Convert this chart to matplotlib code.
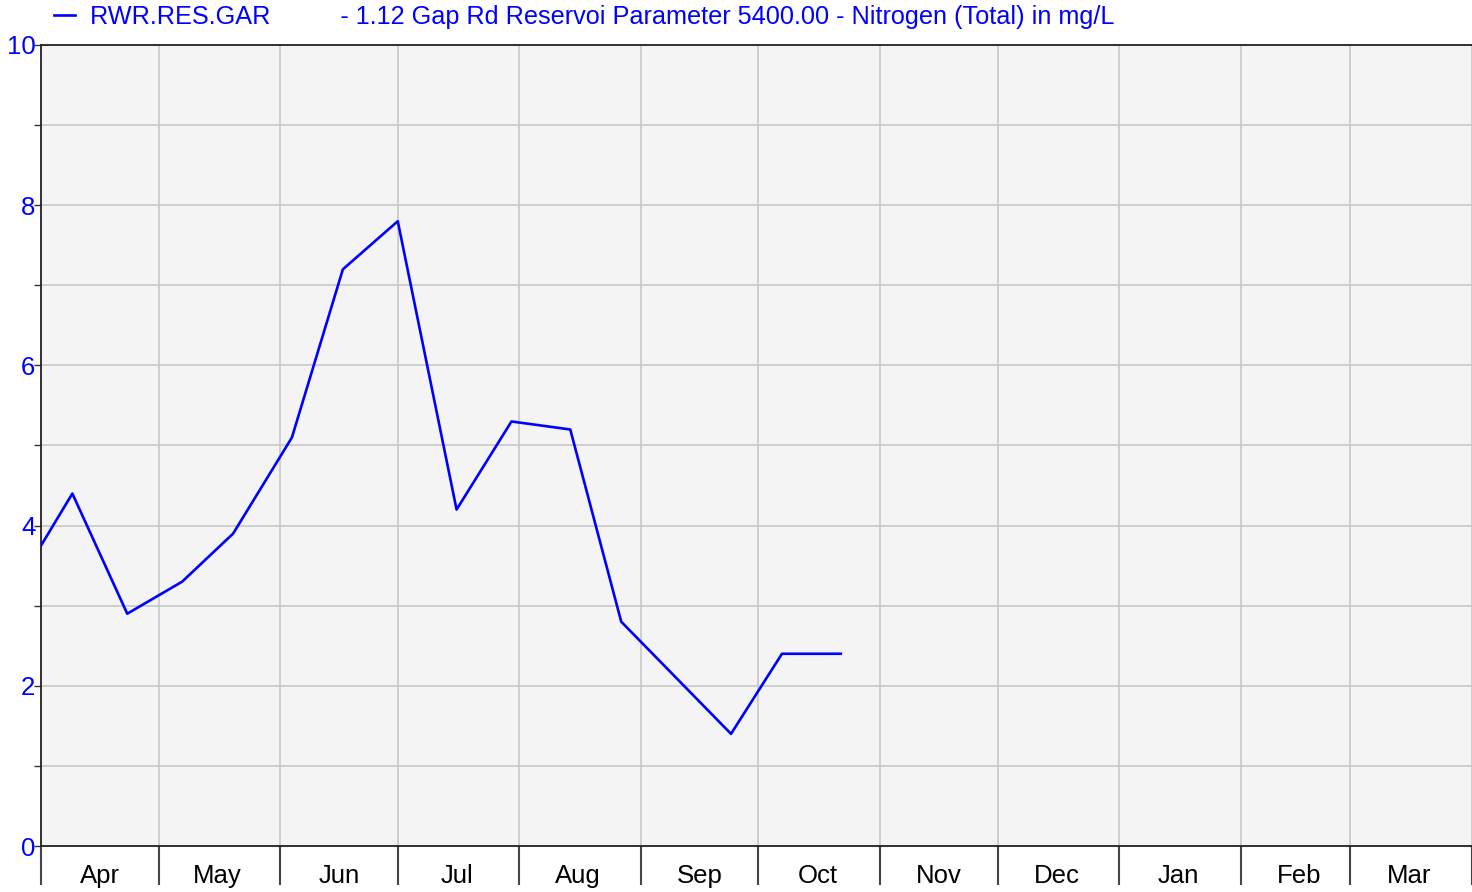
import matplotlib.pyplot as plt
import matplotlib.dates as mdates
import numpy as np
import pandas as pd

# ============================
# Data
# ============================
dates = pd.to_datetime([
    "2018-04-01", "2018-04-09", "2018-04-23", "2018-05-07", "2018-05-20",
    "2018-06-04", "2018-06-17", "2018-07-01", "2018-07-16", "2018-07-30",
    "2018-08-14", "2018-08-27", "2018-09-24", "2018-10-07", "2018-10-22",
])
nitrogen = [3.75, 4.4, 2.9, 3.3, 3.9, 5.1, 7.2, 7.8, 4.2, 5.3, 5.2, 2.8, 1.4, 2.4, 2.4]

series_name = "RWR.RES.GAR"
series_desc = "- 1.12 Gap Rd Reservoi Parameter 5400.00 - Nitrogen (Total) in mg/L"
x_start, x_end = pd.Timestamp("2018-04-01"), pd.Timestamp("2019-04-01")
y_min, y_max = 0, 10

plt.rcParams['font.family'] = ['Liberation Sans', 'DejaVu Sans']
fs = 18.5

fig = plt.figure(figsize=(14.72, 8.92), dpi=100)
ax = fig.add_axes([41 / 1472, 1 - 846 / 892, 1 - 41 / 1472, (846 - 45) / 892])
ax.set_facecolor("#f4f4f4")

line, = ax.plot(dates, nitrogen, color="#0000ff", lw=1.9, zorder=3)

ax.set_xlim(x_start, x_end)
ax.set_ylim(y_min, y_max)

# y axis: labels every 2, ticks/grid every 1
ax.set_yticks(np.arange(y_min, y_max + 1, 2))
ax.set_yticks(np.arange(y_min, y_max + 1, 1), minor=True)
ax.tick_params(axis="y", which="both", direction="out", length=5, width=1,
               color="#333333", labelcolor="#0000ff", labelsize=fs, pad=-1)

# x axis: long separators at month starts, labels centred in each month
ax.xaxis.set_major_locator(mdates.MonthLocator())
ax.xaxis.set_major_formatter(plt.NullFormatter())
ax.xaxis.set_minor_locator(mdates.MonthLocator(bymonthday=16))
ax.xaxis.set_minor_formatter(mdates.DateFormatter("%b"))
ax.tick_params(axis="x", which="major", direction="out", length=28, width=1.5,
               color="#444444")
ax.tick_params(axis="x", which="minor", length=0, pad=13, labelsize=fs,
               labelcolor="black")

ax.grid(True, which="major", axis="x", color="#c8c8c8", lw=1.2)
ax.grid(True, which="both", axis="y", color="#c8c8c8", lw=1.2)
ax.set_axisbelow(True)

for side in ["left", "bottom", "top"]:
    ax.spines[side].set_color("#222222")
    ax.spines[side].set_linewidth(1.3)
ax.spines["right"].set_visible(False)

ax.legend([line], [series_name + "          " + series_desc],
          loc="center left", bbox_to_anchor=(54 / 1472, 1 - 17 / 892),
          bbox_transform=fig.transFigure, frameon=False,
          fontsize=18.2, labelcolor="#0000ff", handlelength=0.82,
          handletextpad=0.62, borderaxespad=0, borderpad=0)

fig.savefig("out.png", dpi=100)
